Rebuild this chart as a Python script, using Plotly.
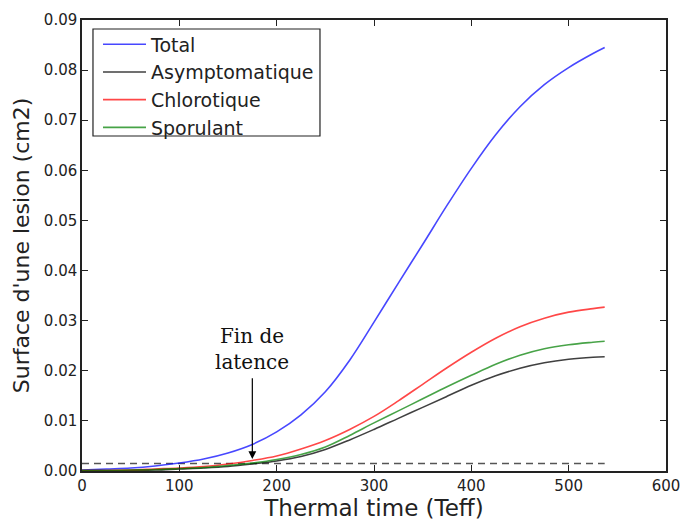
import plotly.graph_objects as go

x_vals = [0, 25, 50, 75, 100, 125, 150, 175, 200, 225, 250, 275, 300, 325, 350, 375, 400, 425, 450, 475, 500, 525, 537]
total = [0.0002, 0.0004, 0.0006, 0.0010, 0.0016, 0.0024, 0.0036, 0.0053, 0.0078, 0.0112, 0.0158, 0.0221, 0.0297, 0.0375, 0.0452, 0.0530, 0.0604, 0.0671, 0.0727, 0.0771, 0.0805, 0.0833, 0.0845]
asymptomatique = [0.0001, 0.0001, 0.0001, 0.0002, 0.0004, 0.0006, 0.0009, 0.0014, 0.0020, 0.0029, 0.0043, 0.0062, 0.0083, 0.0105, 0.0127, 0.0149, 0.0171, 0.0190, 0.0205, 0.0216, 0.0223, 0.0227, 0.0228]
chlorotique = [0.0001, 0.0001, 0.0002, 0.0004, 0.0006, 0.0009, 0.0014, 0.0021, 0.0030, 0.0044, 0.0061, 0.0083, 0.0109, 0.0140, 0.0173, 0.0206, 0.0237, 0.0265, 0.0288, 0.0305, 0.0317, 0.0324, 0.0327]
sporulant = [0.0001, 0.0001, 0.0002, 0.0003, 0.0005, 0.0007, 0.0011, 0.0016, 0.0023, 0.0033, 0.0048, 0.0071, 0.0096, 0.0120, 0.0144, 0.0168, 0.0191, 0.0213, 0.0231, 0.0244, 0.0252, 0.0257, 0.0259]

threshold_x = [0, 537]
threshold_y = [0.0015, 0.0015]

latency_x = 175
latency_tip = 0.0024
latency_start = 0.0188
latency_text_y = 0.0244

x_ticks = [0, 100, 200, 300, 400, 500, 600]
y_ticks = [0.00, 0.01, 0.02, 0.03, 0.04, 0.05, 0.06, 0.07, 0.08, 0.09]

series = [
    ("Total", total, "rgba(0,0,255,0.72)"),
    ("Asymptomatique", asymptomatique, "rgba(0,0,0,0.75)"),
    ("Chlorotique", chlorotique, "rgba(255,0,0,0.72)"),
    ("Sporulant", sporulant, "rgba(0,128,0,0.72)"),
]

fig = go.Figure()
fig.add_trace(go.Scatter(x=threshold_x, y=threshold_y, mode="lines",
                         line=dict(color="#555555", width=1.5, dash="7px,5px"),
                         showlegend=False, hoverinfo="skip"))
for i, (name, ys, col) in enumerate(series):
    fig.add_trace(go.Scatter(x=x_vals, y=ys, mode="lines", name=name,
                             legendgroup=f"g{i}",
                             line=dict(color=col, width=1.6, shape="spline", smoothing=1.0)))

fig.add_annotation(x=latency_x, y=latency_tip, ax=latency_x, ay=latency_start,
                   xref="x", yref="y", axref="x", ayref="y", text="",
                   showarrow=True, arrowhead=2, arrowsize=1.3, arrowwidth=1.2,
                   arrowcolor="black")
fig.add_annotation(x=latency_x, y=latency_text_y, xref="x", yref="y",
                   text="Fin de<br>latence", showarrow=False,
                   font=dict(family="DejaVu Serif", size=20, color="#111111"))

# legend frame
fig.add_shape(type="rect", xref="paper", yref="paper",
              x0=0.0188, x1=0.4075, y0=0.7428, y1=0.980,
              line=dict(color="#222222", width=1.2), fillcolor="rgba(0,0,0,0)",
              layer="above")

axis_common = dict(showline=True, linecolor="#222222", linewidth=1.5, mirror="allticks",
                   ticks="inside", ticklen=6, tickcolor="#222222", tickwidth=1,
                   showgrid=False, zeroline=False, automargin=False,
                   tickfont=dict(family="DejaVu Sans", size=15, color="#222222"))

fig.update_xaxes(range=[0, 600], tickvals=x_ticks, ticktext=[str(v) for v in x_ticks],
                 ticklabeloverflow="allow",
                 title=dict(text="Thermal time (Teff)", standoff=10,
                            font=dict(family="DejaVu Sans", size=23, color="#222222")),
                 **axis_common)
fig.update_yaxes(range=[0, 0.09], tickvals=y_ticks, ticktext=[f"{v:.2f}" for v in y_ticks],
                 title=dict(text="Surface d'une lesion (cm2)", standoff=8,
                            font=dict(family="DejaVu Sans", size=22, color="#222222")),
                 **axis_common)

fig.update_layout(
    width=681, height=521,
    margin=dict(l=82, r=15, t=20, b=50),
    paper_bgcolor="white", plot_bgcolor="white",
    legend=dict(x=0.0274, y=0.988, xanchor="left", yanchor="top",
                borderwidth=0, bgcolor="rgba(0,0,0,0)",
                font=dict(family="DejaVu Sans", size=19, color="#222222"),
                tracegroupgap=0, itemwidth=43),
    showlegend=True,
)

fig.write_html("out.html")
